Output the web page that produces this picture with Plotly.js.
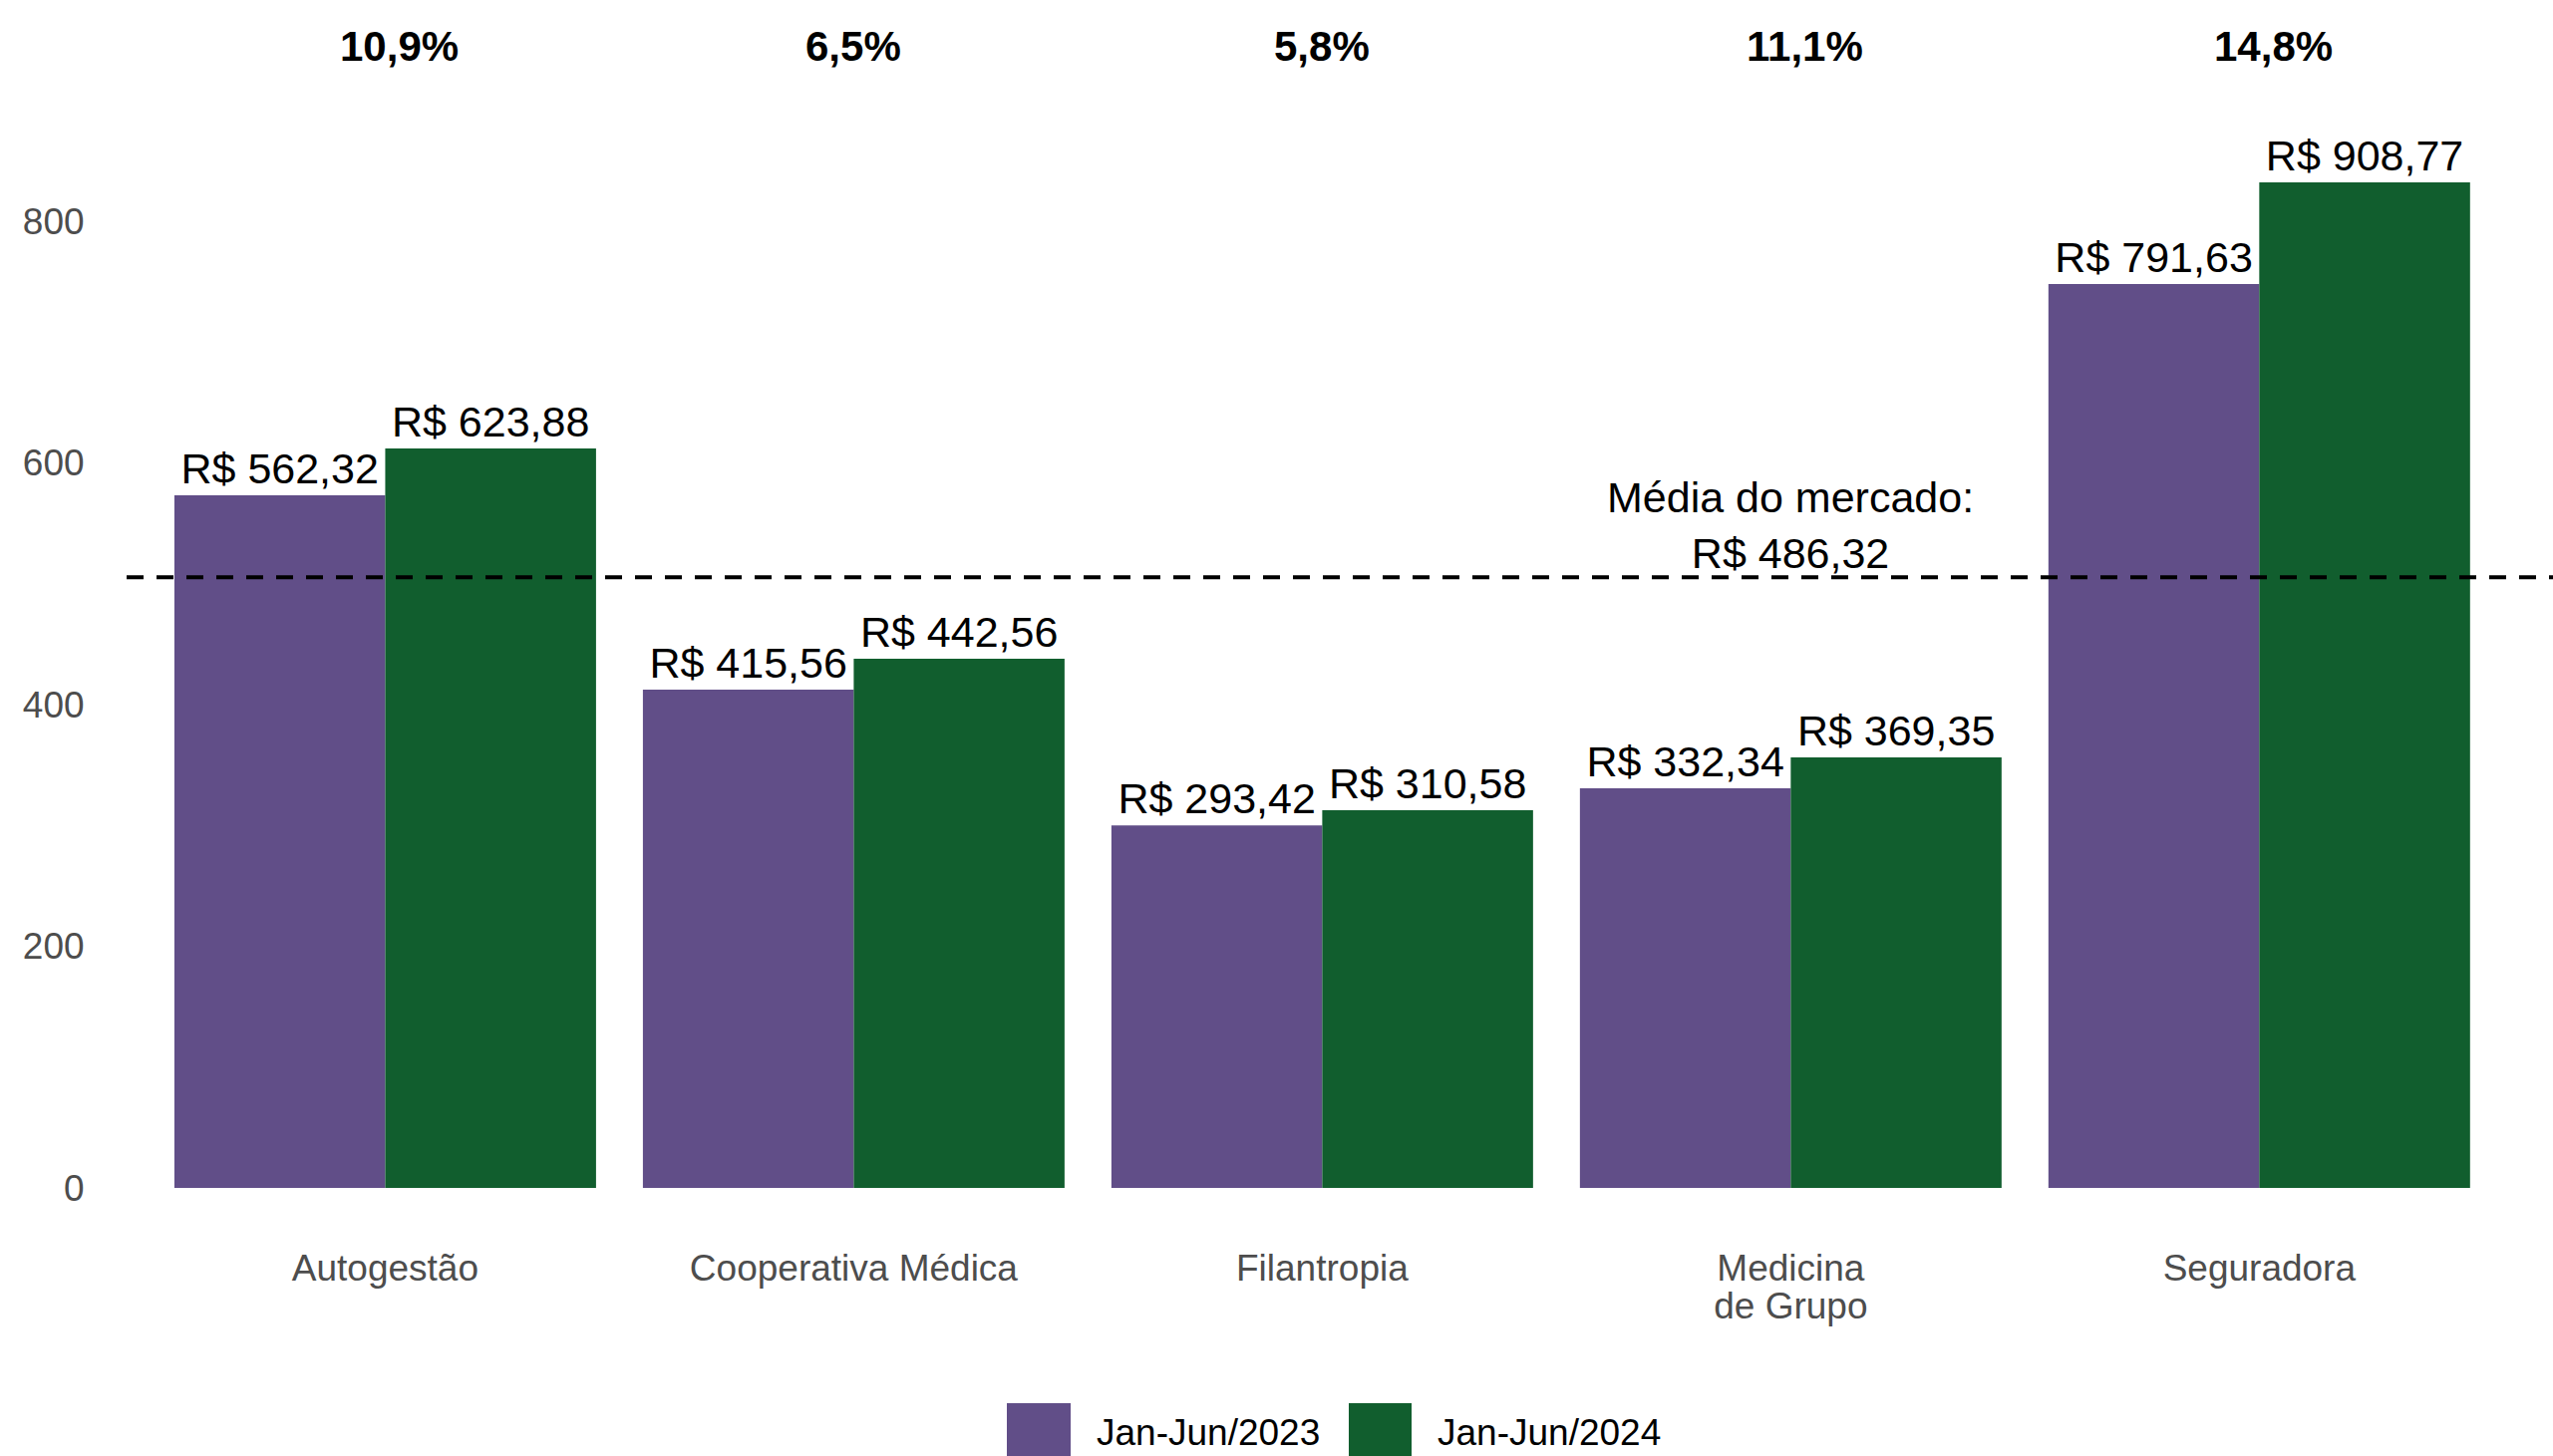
<!DOCTYPE html>
<html>
<head>
<meta charset="utf-8">
<script src="https://cdn.plot.ly/plotly-3.0.1.min.js"></script>
<style>
  html, body { margin: 0; padding: 0; background: #ffffff; }
  #chart { width: 2561px; height: 1461px; }
</style>
</head>
<body>
<div id="chart"></div>
<script>
// ---- Data ----
const categories = ['Autogestão', 'Cooperativa Médica', 'Filantropia', 'Medicina<br>de Grupo', 'Seguradora'];
const seriesNames = ['Jan-Jun/2023', 'Jan-Jun/2024'];
const bars2023 = [573.2, 412.4, 300.0, 330.7, 748.0];
const bars2024 = [612.0, 437.9, 312.6, 356.3, 832.2];
const labels2023 = ['R$ 562,32', 'R$ 415,56', 'R$ 293,42', 'R$ 332,34', 'R$ 791,63'];
const labels2024 = ['R$ 623,88', 'R$ 442,56', 'R$ 310,58', 'R$ 369,35', 'R$ 908,77'];
const growthLabels = ['10,9%', '6,5%', '5,8%', '11,1%', '14,8%'];
const growthLabelY = 945;
const marketAvg = 505.3;
const marketAvgLabel = 'Média do mercado:<br>R$ 486,32';
const marketAvgLabelY = 548.5;
const marketAvgCategory = 'Medicina<br>de Grupo';
const yTickVals = [0, 200, 400, 600, 800];

// ---- Styles ----
const colors = ['#614E88', '#115E2E'];
const FONT = '"Liberation Sans", Arial, Helvetica, sans-serif';
const W = 2561, H = 1461;
const M = { l: 127, r: 0, t: 20, b: 231 };
const plotW = W - M.l - M.r, plotH = H - M.t - M.b;
const px2x = p => (p - M.l) / plotW;
const px2y = p => (H - M.b - p) / plotH;

const traces = [
  {
    type: 'bar', name: seriesNames[0], x: categories, y: bars2023,
    text: labels2023, textposition: 'outside', constraintext: 'none', cliponaxis: false,
    textfont: { family: FONT, size: 43, color: '#000000' },
    marker: { color: colors[0] }, showlegend: false, hoverinfo: 'skip'
  },
  {
    type: 'bar', name: seriesNames[1], x: categories, y: bars2024,
    text: labels2024, textposition: 'outside', constraintext: 'none', cliponaxis: false,
    textfont: { family: FONT, size: 43, color: '#000000' },
    marker: { color: colors[1] }, showlegend: false, hoverinfo: 'skip'
  }
];

// labels beginning with a "1" sit a little to the right in the reference
const annotations = categories.map((c, i) => ({
  x: c, y: growthLabelY, xref: 'x', yref: 'y',
  xshift: growthLabels[i].charAt(0) === '1' ? 14 : 0,
  text: '<b>' + growthLabels[i] + '</b>', showarrow: false,
  xanchor: 'center', yanchor: 'middle',
  font: { family: FONT, size: 42, color: '#000000' }
}));
annotations.push({
  x: marketAvgCategory, y: marketAvgLabelY, xref: 'x', yref: 'y',
  text: marketAvgLabel, showarrow: false, xanchor: 'center', yanchor: 'middle',
  font: { family: FONT, size: 43, color: '#000000' }
});

// manual legend (large keys as in the reference)
const legendKeys = [
  { x0: 1010, x1: 1074, tx: 1098 },
  { x0: 1353, x1: 1416, tx: 1440 }
];
const shapes = [
  {
    type: 'line', xref: 'paper', yref: 'y', x0: 0, x1: 1, y0: marketAvg, y1: marketAvg,
    line: { color: '#000000', width: 4, dash: '17px,13px' }, layer: 'above'
  }
];
legendKeys.forEach((k, i) => {
  shapes.push({
    type: 'rect', xref: 'paper', yref: 'paper',
    x0: px2x(k.x0), x1: px2x(k.x1), y0: px2y(1408), y1: px2y(1475),
    fillcolor: colors[i], line: { width: 0 }
  });
  annotations.push({
    xref: 'paper', yref: 'paper', x: px2x(k.tx), y: px2y(1437),
    xanchor: 'left', yanchor: 'middle', showarrow: false,
    text: seriesNames[i], font: { family: FONT, size: 37, color: '#000000' }
  });
});

const layout = {
  width: W, height: H,
  margin: { l: M.l, r: M.r, t: M.t, b: M.b, pad: 0 },
  paper_bgcolor: '#ffffff', plot_bgcolor: '#ffffff',
  font: { family: FONT, size: 37, color: '#4D4D4D' },
  barmode: 'group', bargap: 0.1, bargroupgap: 0,
  showlegend: false,
  xaxis: {
    type: 'category', range: [-0.552, 4.627],
    showgrid: false, zeroline: false, showline: false,
    ticks: 'outside', ticklen: 10, tickcolor: 'rgba(0,0,0,0)',
    tickfont: { family: FONT, size: 37, color: '#4D4D4D' }
  },
  yaxis: {
    range: [-31.3, 966.6], tickvals: yTickVals,
    showgrid: false, zeroline: false, showline: false,
    ticks: 'outside', ticklen: 34, tickcolor: 'rgba(0,0,0,0)',
    tickfont: { family: FONT, size: 37, color: '#4D4D4D' }
  },
  annotations: annotations,
  shapes: shapes
};

Plotly.newPlot('chart', traces, layout, { staticPlot: true, displayModeBar: false }).then(() => {
  // tighter line spacing for the two-line category label, as in the reference
  document.querySelectorAll('.xtick text tspan.line').forEach(t => {
    const dy = t.getAttribute('dy');
    if (dy && parseFloat(dy) > 0) t.setAttribute('dy', '1.02em');
  });
});
</script>
</body>
</html>
